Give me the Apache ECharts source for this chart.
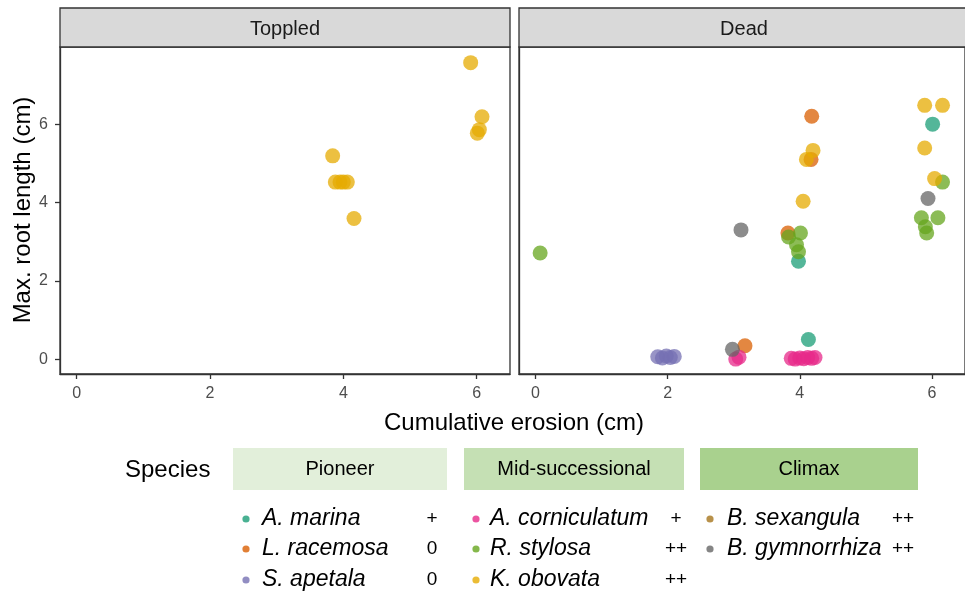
<!DOCTYPE html>
<html>
<head>
<meta charset="utf-8">
<title>Root length vs cumulative erosion</title>
<script src="https://cdn.jsdelivr.net/npm/echarts@6/dist/echarts.min.js"></script>
<style>
  html, body { margin: 0; padding: 0; background: #fff; }
  #chart { width: 965px; height: 598px; }
</style>
</head>
<body>
<div id="chart"></div>
<script>
// Panels (facets) and axis ticks
const panels = ['Toppled', 'Dead'];
const xTicks = [0, 2, 4, 6];
const yTicks = [0, 2, 4, 6];

// Species, grouped by successional stage
const species = ['A. marina', 'L. racemosa', 'S. apetala', 'A. corniculatum', 'R. stylosa', 'K. obovata', 'B. sexangula', 'B. gymnorrhiza'];
const speciesColors = ['#1B9E77', '#D95F02', '#7570B3', '#E7298A', '#66A61E', '#E6AB02', '#A6761D', '#666666'];
const speciesResponse = ['+', '0', '0', '+', '++', '++', '++', '++'];
const stages = ['Pioneer', 'Mid-successional', 'Climax'];
const stageMembers = [[0, 1, 2], [3, 4, 5], [6, 7]];

// Toppled trees: [cumulative erosion, max root length]
const toppledKObovata = [[5.91, 7.57], [6.08, 6.19], [6.04, 5.86], [6.01, 5.77], [3.84, 5.19],
  [3.88, 4.52], [3.95, 4.52], [4.00, 4.52], [4.06, 4.52], [4.16, 3.59]];

// Dead trees: [cumulative erosion, max root length]
const deadAMarina = [[3.98, 2.50], [4.13, 0.50], [6.01, 6.00]];
const deadLRacemosa = [[4.18, 6.20], [4.17, 5.10], [3.82, 3.22], [3.17, 0.34]];
const deadSApetala = [[1.85, 0.06], [1.92, 0.03], [1.98, 0.08], [2.04, 0.04], [2.10, 0.07]];
const deadACorniculatum = [[3.03, 0.00], [3.08, 0.05], [3.87, 0.02], [3.93, 0.00], [4.00, 0.03],
  [4.06, 0.01], [4.12, 0.04], [4.18, 0.02], [4.23, 0.04]];
const deadRStylosa = [[0.07, 2.71], [4.01, 3.22], [3.83, 3.12], [3.95, 2.92], [3.98, 2.74],
  [6.16, 4.52], [5.84, 3.61], [6.09, 3.61], [5.90, 3.38], [5.92, 3.22]];
const deadKObovata = [[4.20, 5.33], [4.10, 5.10], [4.05, 4.03], [5.89, 6.48], [6.16, 6.48],
  [5.89, 5.39], [6.04, 4.61]];
const deadBSexangula = [];
const deadBGymnorrhiza = [[3.11, 3.30], [2.98, 0.25], [5.94, 4.10]];

const deadData = [deadAMarina, deadLRacemosa, deadSApetala, deadACorniculatum,
  deadRStylosa, deadKObovata, deadBSexangula, deadBGymnorrhiza];
const toppledData = [[], [], [], [], [], toppledKObovata, [], []];

const FONT = '"Liberation Sans", Arial, sans-serif';
const INK = '#333333';

const gridLefts = [60, 519];
const panelW = 450, panelTop = 47, panelH = 327;

function xAxisFor(i) {
  return {
    gridIndex: i, type: 'value', min: -0.25, max: 6.5,
    axisLine: { show: true, onZero: false, lineStyle: { color: INK, width: 1.3 } },
    axisTick: { show: true, customValues: xTicks, length: 5, lineStyle: { color: INK, width: 1.3 } },
    axisLabel: { customValues: xTicks, color: '#4d4d4d', fontSize: 16, fontFamily: FONT, margin: 12 },
    splitLine: { show: false }
  };
}
function yAxisFor(i) {
  return {
    gridIndex: i, type: 'value', min: -0.38, max: 7.97,
    axisLine: { show: true, onZero: false, lineStyle: { color: INK, width: 1.3 } },
    axisTick: { show: i === 0, customValues: yTicks, length: 5, lineStyle: { color: INK, width: 1.3 } },
    axisLabel: { show: i === 0, customValues: yTicks, color: '#4d4d4d', fontSize: 16, fontFamily: FONT, margin: 12 },
    splitLine: { show: false }
  };
}

const series = [];
[toppledData, deadData].forEach((panelData, p) => {
  panelData.forEach((pts, s) => {
    series.push({
      type: 'scatter', name: species[s] + ' ' + panels[p],
      xAxisIndex: p, yAxisIndex: p,
      data: pts, symbol: 'circle', symbolSize: 15,
      itemStyle: { color: speciesColors[s], opacity: 0.75 },
      emphasis: { disabled: true }, silent: true
    });
  });
});

// Facet strips, axis titles and the species key
const graphics = [];
panels.forEach((name, p) => {
  graphics.push({
    type: 'rect', shape: { x: gridLefts[p], y: 8, width: panelW, height: panelTop - 8 },
    style: { fill: '#d9d9d9', stroke: INK, lineWidth: 1.3 }, z: 10
  });
  graphics.push({
    type: 'text', x: gridLefts[p] + panelW / 2, y: 29,
    style: { text: name, font: '20px ' + FONT, fill: '#1a1a1a', align: 'center', verticalAlign: 'middle' }, z: 11
  });
});
graphics.push({
  type: 'text', x: 514, y: 423,
  style: { text: 'Cumulative erosion (cm)', font: '24px ' + FONT, fill: '#000', align: 'center', verticalAlign: 'middle' }
});
graphics.push({
  type: 'text', x: 23, y: 210, rotation: Math.PI / 2,
  style: { text: 'Max. root length (cm)', font: '24px ' + FONT, fill: '#000', align: 'center', verticalAlign: 'middle' }
});
graphics.push({
  type: 'text', x: 125, y: 470,
  style: { text: 'Species', font: '24px ' + FONT, fill: '#000', align: 'left', verticalAlign: 'middle' }
});

const stageBoxes = [[233, 447], [464, 684], [700, 918]];
const stageFills = ['#e2efda', '#c5e0b4', '#a9d18e'];
const colDot = [246, 476, 710];
const colText = [262, 490, 727];
const colSym = [432, 676, 903];
const rowY = [519, 549, 580];
stages.forEach((st, c) => {
  const [x0, x1] = stageBoxes[c];
  graphics.push({
    type: 'rect', shape: { x: x0, y: 448, width: x1 - x0, height: 42 },
    style: { fill: stageFills[c] }
  });
  graphics.push({
    type: 'text', x: (x0 + x1) / 2, y: 469,
    style: { text: st, font: '20px ' + FONT, fill: '#000', align: 'center', verticalAlign: 'middle' }
  });
  stageMembers[c].forEach((s, r) => {
    graphics.push({
      type: 'circle', shape: { cx: colDot[c], cy: rowY[r], r: 3.6 },
      style: { fill: speciesColors[s], opacity: 0.8 }
    });
    graphics.push({
      type: 'text', x: colText[c], y: rowY[r],
      style: { text: species[s], font: 'italic 23px ' + FONT, fill: '#000', align: 'left', verticalAlign: 'middle' }
    });
    graphics.push({
      type: 'text', x: colSym[c], y: rowY[r],
      style: { text: speciesResponse[s], font: '19px ' + FONT, fill: '#000', align: 'center', verticalAlign: 'middle' }
    });
  });
});

const chart = echarts.init(document.getElementById('chart'), null, { renderer: 'canvas' });
chart.setOption({
  backgroundColor: '#ffffff',
  animation: false,
  grid: gridLefts.map(l => ({
    left: l, top: panelTop, width: panelW, height: panelH,
    show: true, borderColor: INK, borderWidth: 1.3, backgroundColor: '#ffffff', containLabel: false
  })),
  xAxis: [xAxisFor(0), xAxisFor(1)],
  yAxis: [yAxisFor(0), yAxisFor(1)],
  series: series,
  graphic: graphics
});
</script>
</body>
</html>
